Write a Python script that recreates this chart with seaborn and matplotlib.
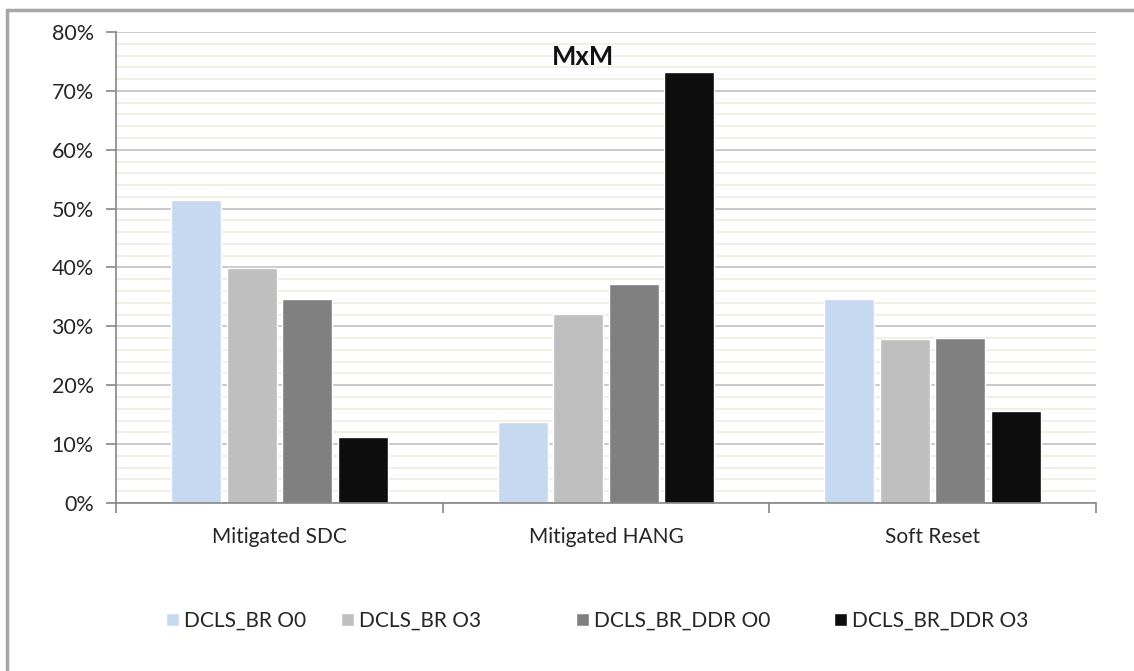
import pandas as pd
import matplotlib.pyplot as plt
import matplotlib.ticker as mticker
from matplotlib.lines import Line2D
import seaborn as sns

# values (percent)
categories = ["Mitigated SDC", "Mitigated HANG", "Soft Reset"]
series = ["DCLS_BR O0", "DCLS_BR O3", "DCLS_BR_DDR O0", "DCLS_BR_DDR O3"]
br_o0 = [51.5, 13.8, 34.6]
br_o3 = [39.9, 32.1, 27.9]
ddr_o0 = [34.6, 37.2, 28.1]
ddr_o3 = [11.2, 73.2, 15.6]
colors = ["#c6d9f1", "#bfbfbf", "#808080", "#0d0d0d"]

rows = []
for name, vals in zip(series, [br_o0, br_o3, ddr_o0, ddr_o3]):
    for cat, v in zip(categories, vals):
        rows.append({"Category": cat, "Series": name, "Value": v / 100})
df = pd.DataFrame(rows)

sns.set_style("white")
plt.rcParams["font.family"] = ["Lato", "DejaVu Sans"]

fig = plt.figure(figsize=(11.34, 6.71), dpi=100)
ax = fig.add_axes([0.1023, 0.2504, 0.8642, 0.7019])

sns.barplot(data=df, x="Category", y="Value", hue="Series", palette=colors,
            width=0.68, gap=0.1, saturation=1, ax=ax, legend=True)

ax.set_ylim(0, 0.8)
ax.set_xlim(-0.5, 2.5)
ax.yaxis.set_major_locator(mticker.MultipleLocator(0.1))
ax.yaxis.set_minor_locator(mticker.MultipleLocator(0.02))
ax.yaxis.set_major_formatter(mticker.PercentFormatter(1.0, decimals=0))
ax.grid(True, which="minor", axis="y", color="#eeece1", linewidth=1.2)
ax.grid(True, which="major", axis="y", color="#c0c0c0", linewidth=1.2)
ax.set_axisbelow(True)

for s in ["top", "right"]:
    ax.spines[s].set_visible(False)
for s in ["left", "bottom"]:
    ax.spines[s].set_color("#868686")
    ax.spines[s].set_linewidth(1.2)

ax.set_xlabel("")
ax.set_ylabel("")
# category ticks sit between groups
ax.set_xticks([0, 1, 2])
ax.set_xticklabels(categories)
ax.xaxis.set_minor_locator(mticker.FixedLocator([-0.5, 0.5, 1.5, 2.5]))
ax.tick_params(axis="x", which="major", length=0, labelsize=15, pad=17, colors="#262626")
ax.tick_params(axis="x", which="minor", length=7, color="#868686", width=1.2, direction="out", bottom=True)
ax.tick_params(axis="y", which="major", length=7, color="#868686", width=1.2, labelsize=15.5,
               pad=9, colors="#262626", left=True)
ax.tick_params(axis="y", which="minor", length=0)

ax.text(0.4765, 0.947, "MxM", transform=ax.transAxes, ha="center", va="center",
        fontsize=18.5, fontweight="bold", color="#111111")

# legend entries placed one by one, as spacing in the original is uneven
handles, labels = ax.get_legend_handles_labels()
ax.get_legend().remove()
legend_x = [166, 341, 576, 834]
for h, lab, x in zip(handles, labels, legend_x):
    fig.legend([h], [lab], loc="center left", bbox_to_anchor=(x / 1134, 1 - 621 / 671),
               frameon=False, fontsize=15, handlelength=0.6, handleheight=0.6,
               handletextpad=0.25, borderpad=0, borderaxespad=0)

# outer chart border (only top and left fall inside the image)
fig.add_artist(Line2D([7 / 1134, 7 / 1134], [0, 1 - 10 / 671], transform=fig.transFigure,
                      color="#a6a6a6", linewidth=2.5))
fig.add_artist(Line2D([7 / 1134, 1], [1 - 10 / 671, 1 - 10 / 671], transform=fig.transFigure,
                      color="#a6a6a6", linewidth=2.5))

fig.savefig("out.png", dpi=100)
